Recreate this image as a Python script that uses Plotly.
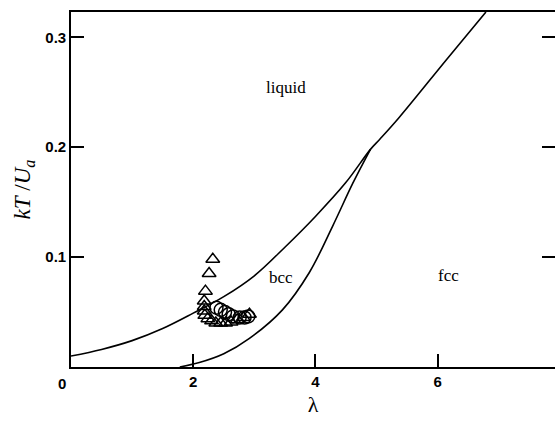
import plotly.graph_objects as go

# Phase boundaries (lambda, kT/Ua)
upper_x = [0.0, 0.5, 1.0, 1.5, 2.0, 2.5, 3.0, 3.5, 4.0, 4.5, 4.9, 5.05, 5.37, 6.15, 6.79]
upper_y = [0.010, 0.016, 0.024, 0.035, 0.049, 0.064, 0.083, 0.109, 0.137, 0.168, 0.198, 0.207, 0.227, 0.280, 0.323]
lower_x = [1.78, 2.1, 2.5, 2.92, 3.46, 3.9, 4.28, 4.61, 4.9]
lower_y = [0.0, 0.004, 0.012, 0.026, 0.052, 0.086, 0.128, 0.167, 0.198]

# Simulation points
tri_x = [2.32, 2.26, 2.20, 2.18, 2.18, 2.18, 2.19, 2.24, 2.30, 2.37, 2.45, 2.53, 2.62, 2.72, 2.82, 2.92]
tri_y = [0.098, 0.085, 0.069, 0.060, 0.055, 0.051, 0.047, 0.044, 0.042, 0.040, 0.040, 0.040, 0.041, 0.043, 0.045, 0.048]
circ_x = [2.38, 2.45, 2.52, 2.58, 2.65, 2.76, 2.84, 2.90]
circ_y = [0.054, 0.052, 0.050, 0.048, 0.046, 0.045, 0.045, 0.046]

x_ticks = [2, 4, 6]
x_ticklabels = ["2", "4", "6"]
y_ticks = [0.1, 0.2, 0.3]
y_ticklabels = ["0.1", "0.2", "0.3"]
origin_label = "0"

region_labels = ["liquid", "bcc", "fcc"]
region_x = [3.52, 3.43, 6.18]
region_y = [0.254, 0.081, 0.083]

fig = go.Figure()
fig.add_trace(go.Scatter(x=upper_x, y=upper_y, mode="lines",
                         line=dict(color="black", width=1.6, shape="spline", smoothing=1.0),
                         hoverinfo="skip", showlegend=False))
fig.add_trace(go.Scatter(x=lower_x, y=lower_y, mode="lines",
                         line=dict(color="black", width=1.6, shape="spline", smoothing=1.0),
                         hoverinfo="skip", showlegend=False))
fig.add_trace(go.Scatter(x=tri_x, y=tri_y, mode="markers",
                         marker=dict(symbol="triangle-up-open", size=12, color="black",
                                     line=dict(width=1.5, color="black")),
                         showlegend=False))
fig.add_trace(go.Scatter(x=circ_x, y=circ_y, mode="markers",
                         marker=dict(symbol="circle-open", size=13, color="black",
                                     line=dict(width=1.5, color="black")),
                         showlegend=False))

for t, xx, yy in zip(region_labels, region_x, region_y):
    fig.add_annotation(x=xx, y=yy, text=t, showarrow=False, xref="x", yref="y",
                       font=dict(family="Liberation Serif", size=17, color="black"))

fig.add_annotation(x=0, y=0, xref="x", yref="y", text=origin_label, showarrow=False,
                   xshift=-9, yshift=-16,
                   font=dict(family="Liberation Sans", size=15, color="black", weight="bold"))

axis_common = dict(showgrid=False, zeroline=False, showline=True, linecolor="black",
                   linewidth=1.6, ticks="inside", ticklen=13, tickwidth=1.5, tickcolor="black",
                   automargin=False,
                   tickfont=dict(family="Liberation Sans", size=15, color="black", weight="bold"))

fig.update_xaxes(range=[0, 7.92], tickvals=x_ticks, ticktext=x_ticklabels, mirror=True,
                 title=dict(text="λ", font=dict(family="Liberation Serif", size=22, color="black"),
                            standoff=8),
                 **axis_common)
fig.update_yaxes(range=[0, 0.323], tickvals=y_ticks, ticktext=y_ticklabels, mirror="ticks",
                 title=dict(text="<i>kT</i> /<i>U<sub>a</sub></i>",
                            font=dict(family="Liberation Serif", size=23, color="black"),
                            standoff=8),
                 **axis_common)

fig.update_layout(width=555, height=423, margin=dict(l=71, r=0, t=12, b=56),
                  plot_bgcolor="white", paper_bgcolor="white")

fig.write_html("out.html", config={"displayModeBar": False},
               post_script="document.body.style.margin='0';document.body.style.overflow='hidden';")
